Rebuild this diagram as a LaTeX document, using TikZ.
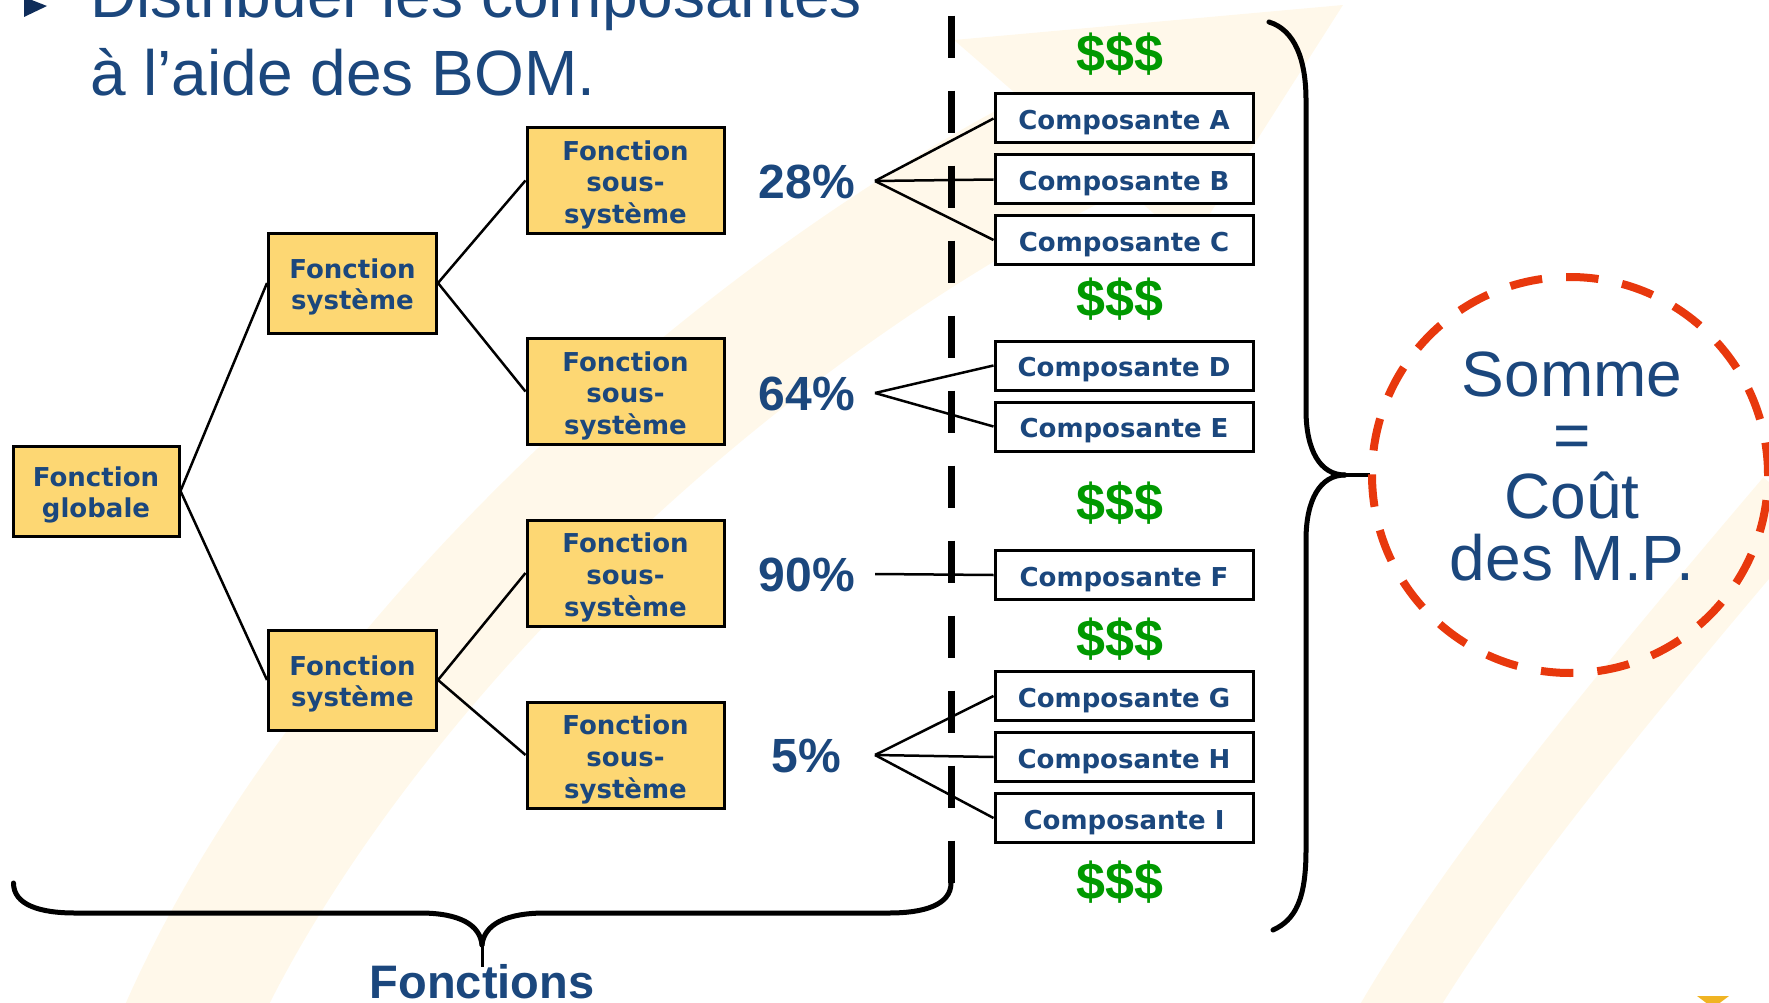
\documentclass[tikz,border=0pt]{standalone}
\usepackage{fontspec}
\setmainfont{Liberation Sans}
\newfontfamily\boxfont{DejaVu Sans}
\definecolor{navy}{RGB}{27,71,125}
\definecolor{boxyellow}{RGB}{253,215,115}
\definecolor{moneygreen}{RGB}{0,153,0}
\definecolor{redorange}{RGB}{232,56,13}
\definecolor{cream}{RGB}{255,248,234}
\definecolor{gold}{RGB}{240,180,35}
\definecolor{bulletnavy}{RGB}{15,45,90}
\begin{document}
\begin{tikzpicture}[x=1pt,y=-1pt,
  fbox/.style={draw=black, line width=3pt, fill=boxyellow, text=navy,
    font=\boxfont\bfseries\fontsize{26}{31.6}\selectfont, align=center, inner sep=0pt, text depth=0pt},
  twoline/.style={fbox, text height=53.5pt},
  threeline/.style={fbox, text height=86pt},
  compbox/.style={draw=black, line width=3pt, fill=white, text=navy,
    font=\boxfont\bfseries\fontsize{26}{31}\selectfont, minimum width=258pt, minimum height=49pt, inner sep=0pt,
    text height=22.5pt, text depth=0pt},
  pct/.style={text=navy, font=\bfseries\fontsize{48}{52}\selectfont, inner sep=0pt},
  money/.style={text=moneygreen, font=\bfseries\fontsize{52}{56}\selectfont, inner sep=0pt},
  link/.style={draw=black, line width=2.5pt},
  circtext/.style={text=navy, font=\fontsize{64}{64}\selectfont, inner sep=0pt, anchor=base},
  brace/.style={draw=black, line width=5pt, line cap=round}
]
\useasboundingbox (0,0) rectangle (1769,1003);
% background cream arrows
\draw[cream, line width=130pt] (185,1030) .. controls (330,700) and (700,330) .. (1080,140);
\fill[cream] (954,40) -- (1343,5) -- (1190,245) -- cycle;
\draw[cream, line width=70pt] (1380,1040) .. controls (1470,880) and (1620,700) .. (1790,500);
\fill[gold] (1697,996) -- (1729,996) -- (1713,1008) -- cycle;
% title
\fill[bulletnavy] (24,-3) -- (47,6) -- (24,17) -- cycle;
\node[anchor=base west, text=navy, font=\fontsize{64}{70}\selectfont, inner sep=0pt] (t1) at (90,18) {Distribuer les composantes};
\node[anchor=base west, text=navy, font=\fontsize{64}{70}\selectfont, inner sep=0pt] (t2) at (90,96) {à l’aide des BOM.};
% dashed separator
\draw[black, line width=7pt, dash pattern=on 42pt off 33pt] (951,15.6) -- (951,886);
% tree boxes
\node[twoline, minimum width=166pt, minimum height=90pt] (g) at (96,491) {Fonction\\globale};
\node[twoline, minimum width=168pt, minimum height=100pt] (s1) at (352.5,283) {Fonction\\système};
\node[twoline, minimum width=168pt, minimum height=100pt] (s2) at (352.5,680) {Fonction\\système};
\node[threeline, minimum width=197pt, minimum height=106pt] (ss1) at (625.5,180.5) {Fonction\\sous-\\système};
\node[threeline, minimum width=197pt, minimum height=106pt] (ss2) at (625.5,391.5) {Fonction\\sous-\\système};
\node[threeline, minimum width=197pt, minimum height=106pt] (ss3) at (625.5,573) {Fonction\\sous-\\système};
\node[threeline, minimum width=197pt, minimum height=106pt] (ss4) at (625.5,755) {Fonction\\sous-\\système};
\draw[link] (g.east) -- (s1.west);
\draw[link] (g.east) -- (s2.west);
\draw[link] (s1.east) -- (ss1.west);
\draw[link] (s1.east) -- (ss2.west);
\draw[link] (s2.east) -- (ss3.west);
\draw[link] (s2.east) -- (ss4.west);
% percentages
\node[pct] (p1) at (807,182) {28\%};
\node[pct] (p2) at (807,394) {64\%};
\node[pct] (p3) at (807,575) {90\%};
\node[pct] (p4) at (806,756) {5\%};
\coordinate (a1) at (875,181);
\coordinate (a2) at (875,393);
\coordinate (a3) at (875,574);
\coordinate (a4) at (875,755);
% components
\node[compbox] (cA) at (1124,118.5) {Composante A};
\node[compbox] (cB) at (1124,179.5) {Composante B};
\node[compbox] (cC) at (1124,240) {Composante C};
\node[compbox] (cD) at (1124,365.5) {Composante D};
\node[compbox] (cE) at (1124,426.5) {Composante E};
\node[compbox] (cF) at (1124,575) {Composante F};
\node[compbox] (cG) at (1124,696) {Composante G};
\node[compbox] (cH) at (1124,757) {Composante H};
\node[compbox] (cI) at (1124,818) {Composante I};
\draw[link] (a1) -- (cA.west);
\draw[link] (a1) -- (cB.west);
\draw[link] (a1) -- (cC.west);
\draw[link] (a2) -- (cD.west);
\draw[link] (a2) -- (cE.west);
\draw[link] (a3) -- (cF.west);
\draw[link] (a4) -- (cG.west);
\draw[link] (a4) -- (cH.west);
\draw[link] (a4) -- (cI.west);
% money
\node[money] (m1) at (1120,54) {\$\$\$};
\node[money] (m2) at (1120,299) {\$\$\$};
\node[money] (m3) at (1120,503) {\$\$\$};
\node[money] (m4) at (1120,639) {\$\$\$};
\node[money] (m5) at (1120,882) {\$\$\$};
% bottom brace
\draw[brace] (13.5,883) .. controls (13.5,905) and (40,913) .. (75,913) -- (420,913) .. controls (460,913) and (480,925) .. (482,945);
\draw[brace] (951,883) .. controls (951,905) and (924,913) .. (889,913) -- (545,913) .. controls (505,913) and (484,925) .. (482,945);
\draw[draw=black, line width=3pt] (482,940) -- (482,967);
\node[text=navy, font=\bfseries\fontsize{47}{50}\selectfont, inner sep=0pt, anchor=base] (fct) at (482,998) {Fonctions};
% right brace
\draw[brace] (1269,22) .. controls (1295,30) and (1306,60) .. (1306,100) -- (1306,410) .. controls (1306,450) and (1320,475) .. (1345,475);
\draw[brace] (1345,475) .. controls (1320,475) and (1306,500) .. (1306,540) -- (1306,850) .. controls (1306,900) and (1295,920) .. (1273,930);
\draw[draw=black, line width=4pt] (1340,475) -- (1370,475);
% circle
\node[circle, draw=redorange, line width=8pt, dash pattern=on 32.5pt off 24pt, minimum size=396pt, inner sep=0pt] (circ) at (1570,475) {};
\node[circtext] (l1) at (1572,396) {Somme};
\node[circtext] (l2) at (1572,457) {=};
\node[circtext] (l3) at (1572,518) {Coût};
\node[circtext] (l4) at (1572,580) {des M.P.};
\end{tikzpicture}
\end{document}
